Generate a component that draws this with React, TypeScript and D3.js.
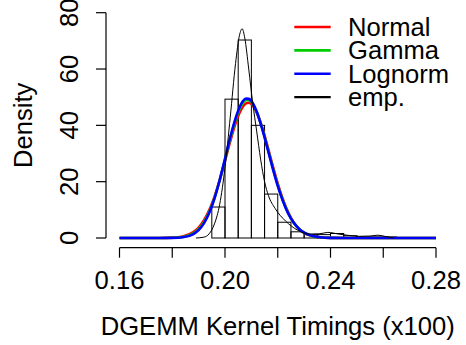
import React from "react";
import * as d3 from "d3";

// Histogram bins (lower edges) and densities
const binStarts = [0.195, 0.2, 0.205, 0.21, 0.215, 0.22, 0.225, 0.23, 0.235, 0.24, 0.245, 0.25, 0.255, 0.26];
const binDensity = [11, 49.3, 70.3, 40, 15.6, 5.6, 2.2, 1.2, 1.2, 1.6, 0.8, 0.4, 0.4, 0.4];
const binWidth = 0.005;

// Fitted density curves sampled along x
const fitX = [0.16, 0.175, 0.18, 0.184, 0.188, 0.19, 0.192, 0.194, 0.196, 0.198, 0.2, 0.202, 0.204, 0.206, 0.208, 0.209, 0.21, 0.212, 0.214, 0.216, 0.218, 0.22, 0.222, 0.224, 0.226, 0.228, 0.23, 0.233, 0.236, 0.24, 0.25, 0.28];
const normalY = [0, 0.01, 0.12, 0.55, 2.08, 3.7, 6.2, 9.8, 14.6, 20.6, 27.4, 34.4, 40.7, 45.4, 47.8, 48.0, 47.6, 44.6, 39.5, 33.0, 26.0, 19.3, 13.6, 9.0, 5.6, 3.3, 1.84, 0.68, 0.22, 0.04, 0, 0];
const gammaY = [0, 0.005, 0.07, 0.37, 1.64, 3.13, 5.55, 9.2, 14.2, 20.6, 27.85, 35.3, 41.9, 46.7, 48.9, 48.9, 48.25, 44.8, 39.25, 32.5, 25.4, 18.8, 13.2, 8.75, 5.5, 3.3, 1.88, 0.73, 0.26, 0.05, 0, 0];
const lognormY = [0, 0.001, 0.04, 0.27, 1.41, 2.82, 5.2, 8.87, 14.0, 20.6, 28.1, 35.8, 42.5, 47.4, 49.5, 49.4, 48.6, 44.9, 39.1, 32.2, 25.1, 18.5, 13.0, 8.6, 5.46, 3.3, 1.9, 0.76, 0.28, 0.06, 0, 0];

// Empirical kernel density
const empX = [0.189, 0.192, 0.194, 0.196, 0.198, 0.2, 0.202, 0.204, 0.2055, 0.2065, 0.2075, 0.209, 0.2105, 0.212, 0.2135, 0.215, 0.2165, 0.219, 0.223, 0.2275, 0.232, 0.236, 0.239, 0.243, 0.247, 0.251, 0.255, 0.258, 0.261, 0.264];
const empY = [0, 0.3, 1.5, 5, 12, 25, 43, 62, 72, 74.3, 71, 60, 48, 38, 28, 20, 15, 10.5, 6, 2.8, 1.4, 1.5, 2, 1.4, 0.9, 0.6, 0.7, 1, 0.5, 0];

const xTicks = [0.16, 0.18, 0.2, 0.22, 0.24, 0.26, 0.28];
const xTickLabels = ["0.16", "", "0.20", "", "0.24", "", "0.28"];
const yTicks = [0, 20, 40, 60, 80];

const legendNames = ["Normal", "Gamma", "Lognorm", "emp."];
const legendColors = ["#ff0000", "#00cd00", "#0000ff", "#000000"];

const FONT = "'Liberation Sans', Arial, Helvetica, sans-serif";
const FS = 25.6;

export default function App() {
  const x = d3.scaleLinear().domain([0.16, 0.28]).range([119.5, 436]);
  const y = d3.scaleLinear().domain([0, 80]).range([238, 12.7]);

  const mk = (xs: number[], ys: number[]) =>
    d3
      .line<number>()
      .x((_, i) => x(xs[i]))
      .y((v) => y(v))
      .curve(d3.curveMonotoneX)(ys) || "";

  const axisY = 247.7;
  const axisX = 106;

  return (
    <svg
      width={466}
      height={345}
      style={{ position: "absolute", left: 0, top: 0, background: "#fff" }}
      fontFamily={FONT}
    >
      <rect x={0} y={0} width={466} height={345} fill="#fff" />
      {/* histogram */}
      {binStarts.map((b, i) => (
        <rect
          key={i}
          x={x(b)}
          y={y(binDensity[i])}
          width={x(b + binWidth) - x(b)}
          height={y(0) - y(binDensity[i])}
          fill="none"
          stroke="#000"
          strokeWidth={1}
        />
      ))}
      {/* fitted curves */}
      <path d={mk(fitX, normalY)} fill="none" stroke={legendColors[0]} strokeWidth={2.6} />
      <path d={mk(fitX, gammaY)} fill="none" stroke={legendColors[1]} strokeWidth={2.6} />
      <path d={mk(fitX, lognormY)} fill="none" stroke={legendColors[2]} strokeWidth={2.6} />
      <path d={mk(empX, empY)} fill="none" stroke="#000" strokeWidth={1} />

      {/* x axis */}
      <line x1={x(0.16)} x2={x(0.28)} y1={axisY} y2={axisY} stroke="#000" strokeWidth={1.2} />
      {xTicks.map((t, i) => (
        <g key={i}>
          <line x1={x(t)} x2={x(t)} y1={axisY} y2={axisY + 10} stroke="#000" strokeWidth={1.2} />
          {xTickLabels[i] && (
            <text x={x(t)} y={289} textAnchor="middle" fontSize={FS} fill="#000">
              {xTickLabels[i]}
            </text>
          )}
        </g>
      ))}
      <text x={(x(0.16) + x(0.28)) / 2} y={335} textAnchor="middle" fontSize={FS} fill="#000">
        DGEMM Kernel Timings (x100)
      </text>

      {/* y axis */}
      <line x1={axisX} x2={axisX} y1={y(0)} y2={y(80)} stroke="#000" strokeWidth={1.2} />
      {yTicks.map((t, i) => (
        <g key={i}>
          <line x1={axisX - 10} x2={axisX} y1={y(t)} y2={y(t)} stroke="#000" strokeWidth={1.2} />
          <text
            transform={`translate(78,${y(t)}) rotate(-90)`}
            textAnchor="middle"
            fontSize={FS}
            fill="#000"
          >
            {t}
          </text>
        </g>
      ))}
      <text
        transform={`translate(32.3,${(y(0) + y(80)) / 2}) rotate(-90)`}
        textAnchor="middle"
        fontSize={FS}
        fill="#000"
      >
        Density
      </text>

      {/* legend */}
      {legendNames.map((n, i) => {
        const ly = 27 + i * 23.4;
        return (
          <g key={n}>
            <line
              x1={294.3}
              x2={330.7}
              y1={ly}
              y2={ly}
              stroke={legendColors[i]}
              strokeWidth={i === 3 ? 2.2 : 2.6}
            />
            <text x={348} y={ly + 9} fontSize={FS} fill="#000">
              {n}
            </text>
          </g>
        );
      })}
    </svg>
  );
}
